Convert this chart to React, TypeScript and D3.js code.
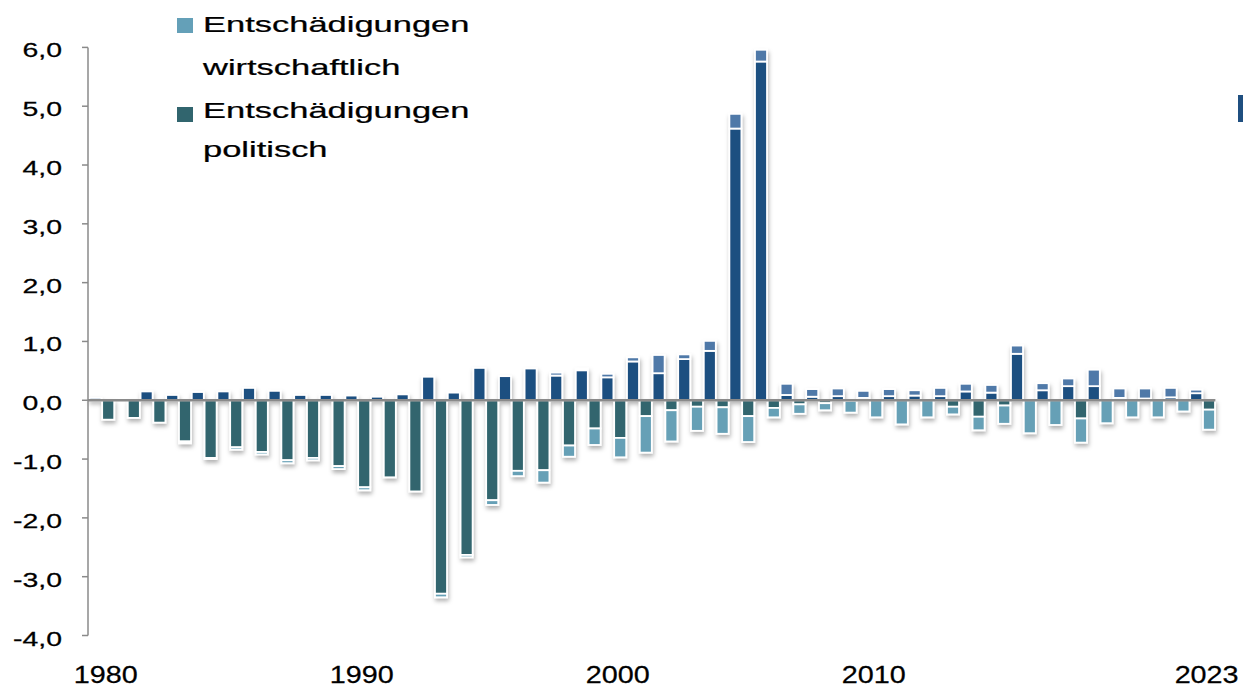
import React from "react";
import * as d3 from "d3";

const years: number[] = d3.range(1980, 2024);

// Rückflüsse (positiv) – dunkelblau (unten) und hellblau (oben)
const posDark: number[] = [
  0, 0, 0.15, 0.09, 0.14, 0.15, 0.21, 0.16, 0.09, 0.09,
  0.08, 0.06, 0.10, 0.40, 0.13, 0.55, 0.41, 0.54, 0.42, 0.51,
  0.39, 0.66, 0.46, 0.70, 0.84, 4.62, 5.76, 0.09, 0.06, 0.07,
  0.04, 0.07, 0.08, 0.07, 0.15, 0.13, 0.79, 0.17, 0.24, 0.24,
  0.04, 0.03, 0.05, 0.12,
];
const posLight: number[] = [
  0.04, 0, 0, 0, 0, 0, 0, 0, 0, 0,
  0, 0, 0, 0, 0, 0, 0, 0, 0.05, 0.03,
  0.06, 0.07, 0.31, 0.08, 0.17, 0.25, 0.20, 0.19, 0.13, 0.13,
  0.12, 0.12, 0.09, 0.14, 0.13, 0.13, 0.14, 0.12, 0.13, 0.28,
  0.16, 0.17, 0.16, 0.06,
];
// Entschädigungen politisch (negativ, oben am Nullpunkt)
const negPolit: number[] = [
  -0.33, -0.30, -0.38, -0.70, -0.98, -0.80, -0.88, -1.02, -0.98, -1.12,
  -1.48, -1.31, -1.55, -3.29, -2.63, -1.70, -1.20, -1.19, -0.77, -0.48,
  -0.64, -0.27, -0.17, -0.11, -0.12, -0.27, -0.13, -0.07, -0.05, -0.01,
  0, 0, 0, -0.11, -0.28, -0.09, 0, 0, -0.31, 0,
  0, 0, 0, -0.16,
];
// Entschädigungen wirtschaftlich (negativ, darunter)
const negWirt: number[] = [
  0, 0, 0, -0.03, -0.02, -0.04, -0.04, -0.05, -0.04, -0.05,
  -0.05, 0, 0, -0.06, -0.04, -0.08, -0.09, -0.21, -0.19, -0.28,
  -0.33, -0.62, -0.53, -0.41, -0.45, -0.44, -0.16, -0.16, -0.12, -0.20,
  -0.29, -0.41, -0.29, -0.13, -0.23, -0.31, -0.56, -0.42, -0.41, -0.39,
  -0.29, -0.29, -0.19, -0.34,
];

const yTicks: number[] = [-4, -3, -2, -1, 0, 1, 2, 3, 4, 5, 6];
const xLabelYears: number[] = [1980, 1990, 2000, 2010, 2023];
const legendLabels: string[][] = [
  ["Entschädigungen", "wirtschaftlich"],
  ["Entschädigungen", "politisch"],
];

const COL_DARK_BLUE = "#1f4f80";
const COL_LIGHT_BLUE = "#5079a8";
const COL_TEAL = "#31656e";
const COL_LIGHT_TEAL = "#66a0b6";
const legendColors = ["#64a0b8", COL_TEAL];

const W = 1243;
const H = 688;

function StretchText(props: {
  x: number;
  y: number;
  size: number;
  sx: number;
  anchor?: string;
  children: React.ReactNode;
}) {
  return (
    <text
      transform={`translate(${props.x},${props.y}) scale(${props.sx},1)`}
      fontSize={props.size}
      fontFamily="'Liberation Sans', Arial, sans-serif"
      textAnchor={props.anchor || "start"}
      fill="#000"
      stroke="#000"
      strokeWidth={0.25}
    >
      {props.children}
    </text>
  );
}

export default function App() {
  const y = d3.scaleLinear().domain([-4, 6]).range([635.5, 47.4]);
  const x = d3
    .scaleBand<number>()
    .domain(years)
    .range([89, 89 + 44 * 25.6])
    .padding(0);
  const sub = d3
    .scaleBand<string>()
    .domain(["pos", "neg"])
    .range([0, x.bandwidth()])
    .paddingInner(0.06)
    .paddingOuter(0.03);
  const bw = sub.bandwidth();

  type Seg = { x: number; y0: number; y1: number; color: string; key: string };
  const segs: Seg[] = [];
  years.forEach((yr, i) => {
    const xp = (x(yr) as number) + (sub("pos") as number);
    const xn = (x(yr) as number) + (sub("neg") as number);
    const pd = posDark[i];
    const pl = posLight[i];
    if (pd > 0) segs.push({ x: xp, y0: 0, y1: pd, color: COL_DARK_BLUE, key: `pd${yr}` });
    if (pl > 0) segs.push({ x: xp, y0: pd, y1: pd + pl, color: COL_LIGHT_BLUE, key: `pl${yr}` });
    const np = negPolit[i];
    const nw = negWirt[i];
    if (np < 0) segs.push({ x: xn, y0: 0, y1: np, color: COL_TEAL, key: `np${yr}` });
    if (nw < 0) segs.push({ x: xn, y0: np, y1: np + nw, color: COL_LIGHT_TEAL, key: `nw${yr}` });
  });

  const axisX = 88;
  const zeroY = y(0);
  const xEnd = 89 + 44 * 25.6;

  const legendBase = [
    { sq: 18, l1: 32, l2: 75 },
    { sq: 107, l1: 118, l2: 157 },
  ];

  return (
    <svg
      width={W}
      height={H}
      style={{ position: "absolute", left: 0, top: 0, background: "#fff" }}
    >
      <defs>
        <filter id="shadow" x="-50%" y="-20%" width="200%" height="140%">
          <feDropShadow dx="1" dy="3" stdDeviation="2.2" floodColor="#000" floodOpacity="0.3" />
        </filter>
      </defs>
      <rect x={0} y={0} width={W} height={H} fill="#fff" />

      {/* bars */}
      <g filter="url(#shadow)">
        {segs.map((s) => {
          const top = y(Math.max(s.y0, s.y1));
          const bot = y(Math.min(s.y0, s.y1));
          return (
            <rect
              key={s.key}
              x={s.x}
              y={top}
              width={bw}
              height={Math.max(0.5, bot - top)}
              fill={s.color}
              stroke="#fff"
              strokeWidth={1.8}
            />
          );
        })}
      </g>

      {/* y axis */}
      <line x1={axisX} x2={axisX} y1={y(6)} y2={y(-4)} stroke="#8a8a8a" strokeWidth={1.5} />
      {yTicks.map((t) => (
        <g key={t}>
          <line x1={axisX - 6} x2={axisX} y1={y(t)} y2={y(t)} stroke="#8a8a8a" strokeWidth={1.5} />
          <StretchText x={62} y={y(t) + 10} size={20} sx={1.42} anchor="end">
            {d3.format(".1f")(t).replace(".", ",").replace("−", "-")}
          </StretchText>
        </g>
      ))}

      {/* zero line */}
      <line x1={axisX} x2={xEnd} y1={zeroY} y2={zeroY} stroke="#8a8a8a" strokeWidth={2.5} />

      {/* x labels */}
      {xLabelYears.map((yr) => (
        <StretchText
          key={yr}
          x={(x(yr) as number) + x.bandwidth() / 2 + 4}
          y={683}
          size={23}
          sx={1.25}
          anchor="middle"
        >
          {String(yr)}
        </StretchText>
      ))}

      {/* legend */}
      {legendLabels.map((lab, i) => {
        const b = legendBase[i];
        return (
          <g key={i}>
            <rect x={177} y={b.sq} width={16} height={15} fill={legendColors[i]} />
            <StretchText x={203} y={b.l1} size={23} sx={1.5}>
              {lab[0]}
            </StretchText>
            <StretchText x={203} y={b.l2} size={23} sx={1.5}>
              {lab[1]}
            </StretchText>
          </g>
        );
      })}

      {/* clipped legend marker at right edge */}
      <rect x={1238} y={95} width={6} height={27} fill={COL_DARK_BLUE} />
    </svg>
  );
}
